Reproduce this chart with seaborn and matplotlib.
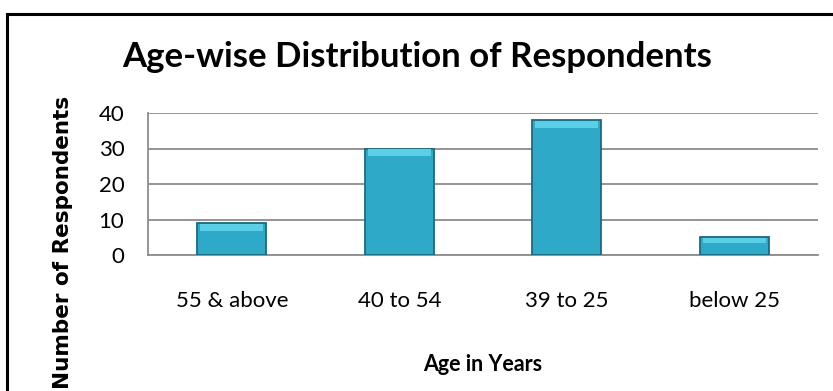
import matplotlib
matplotlib.use('Agg')
import matplotlib.pyplot as plt
import seaborn as sns
import pandas as pd
from matplotlib.patches import Rectangle

# chart data
age_groups = ['55 & above', '40 to 54', '39 to 25', 'below 25']
respondents = [9, 30, 38, 5]
y_ticks = [0, 10, 20, 30, 40]

df = pd.DataFrame({'Age': age_groups, 'Count': respondents})

sns.set_style('white')
plt.rcParams['font.family'] = ['Lato', 'DejaVu Sans']
plt.rcParams['text.color'] = 'black'
plt.rcParams['axes.labelcolor'] = 'black'

fig = plt.figure(figsize=(8.33, 3.91), dpi=100)
W, H = 833, 391
ax = fig.add_axes([148 / W, 1 - 255 / H, 670 / W, 142 / H])

sns.barplot(data=df, x='Age', y='Count', color='#2EA9C8', width=0.41,
            edgecolor='#1C6A80', linewidth=1.3, saturation=1, ax=ax, zorder=3)

# lighter bevel on top of each bar
for p in ax.patches[:len(respondents)]:
    x0, w, h = p.get_x(), p.get_width(), p.get_height()
    ax.add_patch(Rectangle((x0 + w * 0.04, h - min(2.2, h * 0.3)), w * 0.92,
                           min(2.2, h * 0.3) - 0.15, facecolor='#5CCFE8',
                           edgecolor='none', zorder=4))

ax.set_ylim(0, 40)
ax.set_yticks(y_ticks)
ax.yaxis.grid(True, color='#8C8C8C', linewidth=1.3, zorder=0)
for s in ['top', 'right']:
    ax.spines[s].set_visible(False)
for s in ['left', 'bottom']:
    ax.spines[s].set_color('#8C8C8C')
    ax.spines[s].set_linewidth(1.3)
ax.tick_params(axis='both', length=0, labelsize=16, colors='black')
ax.tick_params(axis='x', pad=26)
ax.tick_params(axis='y', pad=17)

ax.set_xlabel('Age in Years', fontsize=15.5, fontweight='bold')
ax.xaxis.set_label_coords(0.5, -0.70)
ax.set_ylabel('Number of Respondents', fontsize=15.5, fontweight='bold',
              family='DejaVu Sans')
ax.yaxis.set_label_coords(-0.112, 0.09)

fig.text(417 / W, 1 - 57 / H, 'Age-wise Distribution of Respondents',
         ha='center', va='center', fontsize=25, fontweight='bold',
         color='black')

# outer chart border
fig.patches.append(Rectangle((7 / W, -0.1), 1.2, 1.1 - 14 / H,
                             transform=fig.transFigure, fill=False,
                             edgecolor='black', linewidth=2.2))

plt.savefig('out.png', dpi=100)
